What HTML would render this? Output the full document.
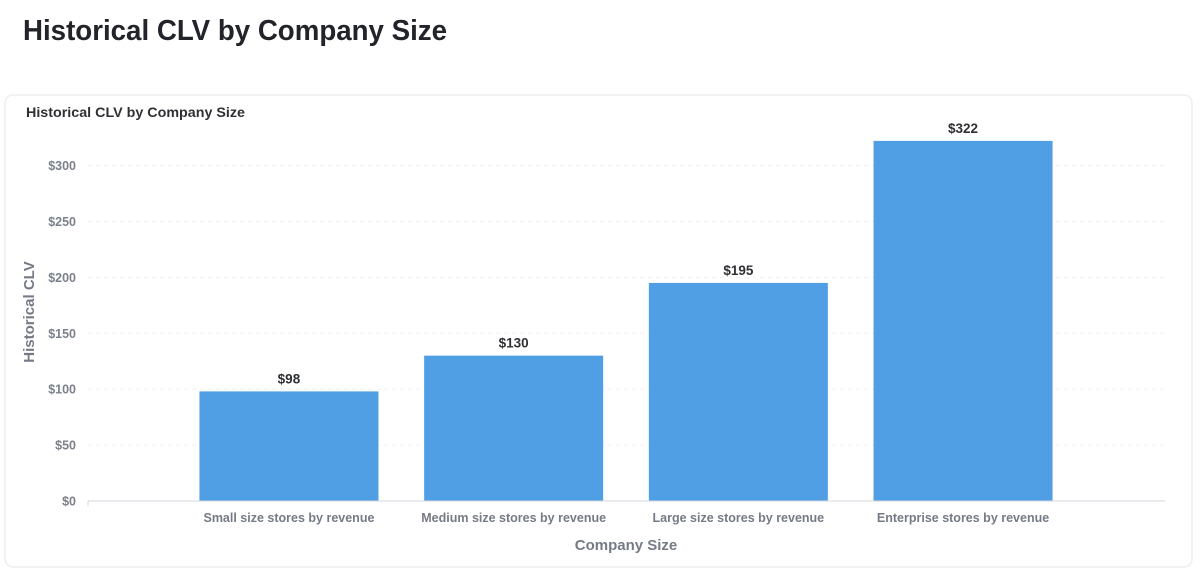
<!DOCTYPE html>
<html><head><meta charset="utf-8"><style>
html,body{margin:0;padding:0;background:#fff;width:1200px;height:574px;overflow:hidden}
text{font-family:"Liberation Sans",sans-serif}
</style></head><body>
<svg id="chart" width="1200" height="574" viewBox="0 0 1200 574">
<text x="23" y="40" font-size="29" font-weight="bold" fill="#22242a" textLength="424" lengthAdjust="spacingAndGlyphs">Historical CLV by Company Size</text>
<rect x="5" y="95" width="1187" height="472" rx="8" fill="#fff" stroke="#eceef1" stroke-width="1.5"/>
<text x="26" y="117" font-size="14" font-weight="bold" fill="#2e3034" textLength="219" lengthAdjust="spacingAndGlyphs">Historical CLV by Company Size</text>
<g id="grid"></g><g id="bars"></g><g id="labels"></g>
<line x1="88" y1="501" x2="1165" y2="501" stroke="#d4d7dc" stroke-width="1"/>
<line x1="88" y1="501" x2="88" y2="506" stroke="#d4d7dc"/>
<text transform="translate(34,312) rotate(-90)" text-anchor="middle" font-size="15" font-weight="bold" fill="#757b86">Historical CLV</text>
<text x="626" y="550" text-anchor="middle" font-size="15" font-weight="bold" fill="#757b86">Company Size</text>
</svg>
<script>
const categories=["Small size stores by revenue","Medium size stores by revenue","Large size stores by revenue","Enterprise stores by revenue"];
const values=[98,130,195,322];
const yTicks=[0,50,100,150,200,250,300];
const yTickLabels=["$0","$50","$100","$150","$200","$250","$300"];
const NS="http://www.w3.org/2000/svg";
function y(v){return 501-(v/300)*335.5;}
function xBand(i){return 176.6+i*224.7;}
const bw=224.7, barW=179;
const grid=document.getElementById('grid'),bars=document.getElementById('bars'),labels=document.getElementById('labels');
yTicks.forEach((t,i)=>{
 if(t>0){const l=document.createElementNS(NS,'line');
 l.setAttribute('x1',88);l.setAttribute('x2',1165);l.setAttribute('y1',y(t));l.setAttribute('y2',y(t));
 l.setAttribute('stroke','#eef0f2');l.setAttribute('stroke-dasharray','4 4');
 
 
 grid.appendChild(l);}
 const tx=document.createElementNS(NS,'text');
 tx.setAttribute('x',76);tx.setAttribute('y',y(t)+4.5);tx.setAttribute('text-anchor','end');
 tx.setAttribute('font-size','12.5');tx.setAttribute('font-weight','bold');tx.setAttribute('fill','#7b818b');
 tx.textContent=yTickLabels[i];
 
 
 labels.appendChild(tx);
});
values.forEach((v,i)=>{
 const cx=xBand(i)+bw/2;
 const r=document.createElementNS(NS,'rect');
 r.setAttribute('x',cx-barW/2);r.setAttribute('width',barW);r.setAttribute('y',y(v));r.setAttribute('height',501-y(v));
 r.setAttribute('fill','#509ee3');
 
 
 bars.appendChild(r);
 const vl=document.createElementNS(NS,'text');
 vl.setAttribute('x',cx);vl.setAttribute('y',y(v)-8);vl.setAttribute('text-anchor','middle');
 vl.setAttribute('font-size','13.5');vl.setAttribute('font-weight','bold');vl.setAttribute('fill','#2e3034');
 vl.textContent='$'+v;
 
 
 labels.appendChild(vl);
 const cl=document.createElementNS(NS,'text');
 cl.setAttribute('x',cx);cl.setAttribute('y',522);cl.setAttribute('text-anchor','middle');
 cl.setAttribute('font-size','12.5');cl.setAttribute('font-weight','bold');cl.setAttribute('fill','#757b86');
 cl.textContent=categories[i];
 
 
 labels.appendChild(cl);
});
</script>
</body></html>
